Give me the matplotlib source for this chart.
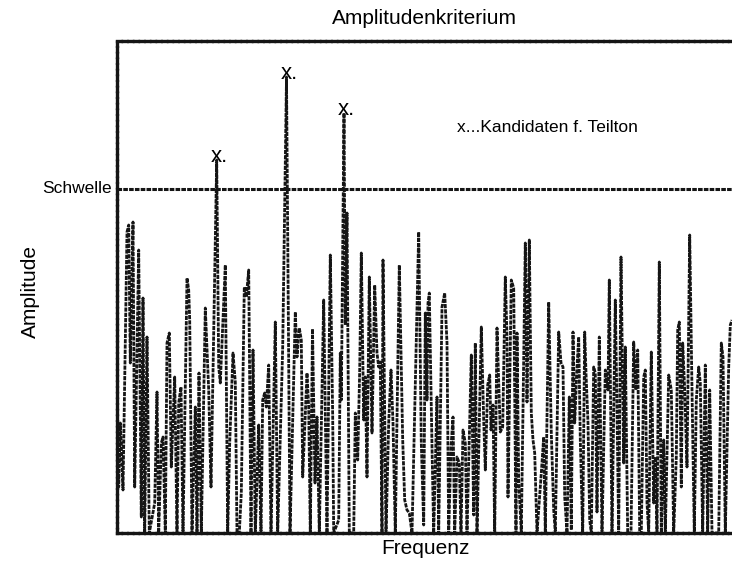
import numpy as np
import matplotlib
import matplotlib.pyplot as plt

matplotlib.use('agg')
plt.rcParams['font.family'] = ['Liberation Sans', 'DejaVu Sans']

# spectrum (arbitrary units, amplitude 0 = bottom of box)
freq = [0.7, 1.7, 3.3, 5, 6, 10, 11.7, 13.3, 16, 17.7, 21.7, 24.3, 26, 27.7, 30, 32.3,
        37.7, 40, 41.7, 44.3, 46, 48.3, 50, 52.3, 54.3, 57.7, 60, 61.7, 64, 66, 70, 71.7,
        72.7, 75, 78.3, 80, 82, 84.3, 88.3, 91.7, 94, 99.7, 101.7, 103.3, 108.3, 110.7,
        112.7, 116, 118.3, 120, 122.3, 124.3, 127.3, 129.3, 131.7, 134, 136, 138.3, 141.7,
        144, 145.7, 147.7, 149.3, 151.7, 154, 158.3, 160.7, 165.7, 169.5, 173, 178.3, 180,
        182.3, 184.3, 185.7, 190, 191.7, 193.3, 195.5, 198, 200, 202.3, 206.7, 210, 213.3,
        215.7, 216.7, 221.7, 223.3, 224.3, 227, 228.3, 230, 232.3, 236.7, 238.3, 240.7,
        242.7, 244.3, 246.7, 248.3, 250, 252.3, 255, 257.7, 260, 261.7, 263.3, 265, 266,
        269, 271.7, 274, 276, 278.3, 282.3, 285.7, 287.7, 290, 292.3, 295, 301.7, 304.3,
        306.7, 308.3, 310, 311, 312.3, 315, 316.7, 320, 321.7, 325, 327.7, 330, 331.7, 334,
        336, 337.7, 340, 342.3, 344, 346, 348.3, 350, 354.3, 356.7, 358.3, 360, 364.3,
        366.7, 368.3, 370.7, 372.7, 374, 376, 377.7, 380, 383.3, 385.7, 388.3, 390, 391,
        394.3, 396.7, 399, 400, 401.7, 404.3, 408.3, 410, 412.3, 414.3, 416, 417.7, 420,
        424.3, 426.7, 428.3, 431.7, 434.3, 436.7, 438.3, 441.7, 444, 446, 447.7, 450,
        452.3, 454.3, 456, 457.7, 460, 461.7, 463.3, 465.7, 467.7, 469, 471, 472.7, 474.3,
        476.7, 478.3, 480, 482.3, 485, 488.3, 491, 492.3, 495, 498.3, 500, 501.7, 504,
        506.7, 508.3, 510.7, 514, 516.7, 519, 520.7, 522.7, 524.3, 526.7, 528.3, 530,
        531.7, 534.3, 536.7, 538.3, 540, 542.3, 544.3, 546.7, 548.3, 551.7, 554.3, 556.7,
        559.3, 560.7, 562.3, 564.3, 565.7, 567.7, 570, 572.7, 575, 577.3, 579.3, 581.7,
        583.3, 585.7, 588.3, 590.7, 592.7, 595, 601.7, 604.3, 606, 608.3, 611.7, 613.3, 615]
amp = [106, 46, 110, 70, 43, 301, 308, 170, 311, 46, 283, 16, 235, 0, 196, 0,
       30, 141, 0, 90, 96, 0, 190, 200, 66, 156, 0, 130, 146, 0, 255, 243,
       213, 0, 126, 0, 160, 0, 225, 143, 46, 373, 166, 150, 268, 0,
       90, 180, 151, 0, 0, 40, 246, 236, 263, 0, 183, 0, 108,
       0, 133, 140, 126, 168, 0, 211, 0, 186, 456, 0, 221, 176,
       205, 193, 56, 160, 126, 0, 204, 50, 116, 0, 233, 0, 278,
       116, 0, 13, 180, 133, 420, 208, 320, 0, 0, 120, 73,
       163, 280, 113, 156, 56, 256, 100, 248, 180, 166, 171, 0, 273,
       0, 110, 163, 110, 0, 268, 93, 33, 23, 20, 0, 301, 90,
       8, 220, 133, 230, 240, 86, 0, 136, 0, 226, 240, 190, 0, 86,
       116, 0, 76, 70, 0, 103, 90, 0, 178, 18, 190, 0, 206,
       113, 63, 148, 158, 103, 128, 0, 205, 101, 106, 256, 196, 36,
       253, 245, 0, 200, 53, 0, 290, 131, 293, 120, 93, 80, 0,
       60, 96, 0, 231, 100, 23, 0, 201, 170, 166, 36, 0,
       136, 3, 201, 110, 166, 196, 93, 0, 201, 160, 110, 13, 0,
       166, 160, 21, 196, 0, 163, 143, 253, 0, 233, 123, 0, 276,
       70, 186, 0, 0, 191, 143, 183, 0, 0, 156, 163, 30,
       0, 181, 30, 76, 0, 271, 0, 93, 0, 158, 143, 0,
       76, 203, 211, 46, 190, 143, 66, 298, 143, 0, 133, 166,
       150, 0, 168, 0, 143, 0, 0, 190, 176, 0, 166, 208, 213]

schwelle = 344
kandidaten = [99.7, 169.5, 227]
kand_amp = [373, 456, 420]

fig = plt.figure(figsize=(7.32, 5.67), dpi=100)
ax = fig.add_axes([117 / 732, 34 / 567, 628 / 732, 492 / 567])

dots = (0, (1.5, 0.4))
ax.plot(freq, amp, color='#151515', lw=2.0, ls=dots, solid_capstyle='butt')
ax.axhline(schwelle, color='#151515', lw=2.2, ls=dots)

for f, a in zip(kandidaten, kand_amp):
    ax.annotate('x.', (f, a), xytext=(-4.3, -1.5), textcoords='offset points',
                ha='left', va='baseline', fontsize=16)

ax.set_xlim(0, 628)
ax.set_ylim(0, 492)
ax.set_xticks([])
ax.set_yticks([])
for s in ax.spines.values():
    s.set_linewidth(2.4)
    s.set_linestyle((0, (1.2, 0.5)))
    s.set_color('#151515')

fig.text(424 / 732, 1 - 18 / 567, 'Amplitudenkriterium', ha='center', va='center', fontsize=15)
fig.text(425 / 732, 1 - 548 / 567, 'Frequenz', ha='center', va='center', fontsize=15)
fig.text(30 / 732, 1 - 292 / 567, 'Amplitude', ha='center', va='center', rotation=90, fontsize=15)
fig.text(112 / 732, 1 - 189 / 567, 'Schwelle', ha='right', va='center', fontsize=12.5)
fig.text(457 / 732, 1 - 127 / 567, 'x...Kandidaten f. Teilton', ha='left', va='center', fontsize=12.5)

plt.savefig('out.png', dpi=100)
